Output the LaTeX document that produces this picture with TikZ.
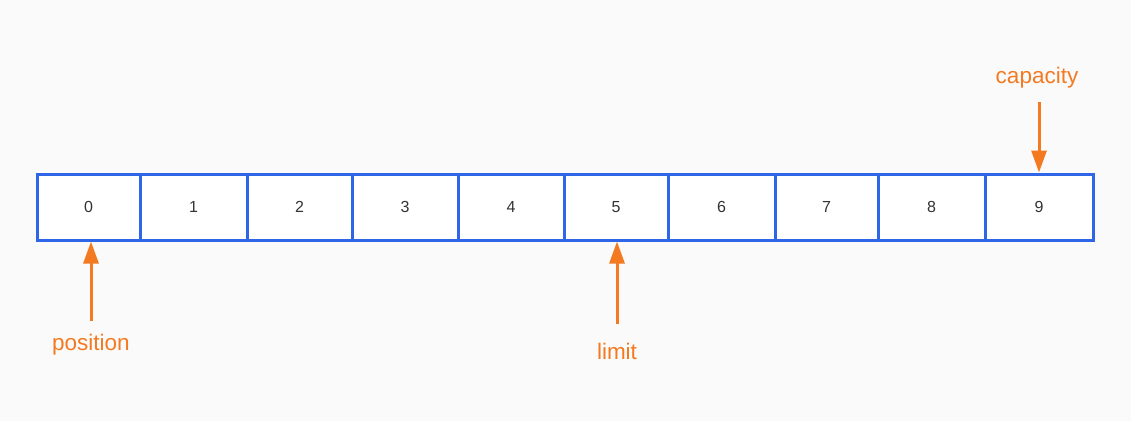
\documentclass[tikz,border=0pt]{standalone}
\usepackage{fontspec}
\setmainfont{Liberation Sans}
\usepackage{tikz}
\usetikzlibrary{arrows.meta}

\definecolor{cellblue}{HTML}{2F66E8}
\definecolor{markorange}{HTML}{F47A22}
\definecolor{paper}{HTML}{FAFAFA}
\definecolor{digit}{HTML}{333333}

\begin{document}
\begin{tikzpicture}[x=1pt,y=-1pt,
		cell/.style={draw=cellblue,line width=3pt,fill=white,minimum height=66pt,inner sep=0pt,font=\fontsize{16}{16}\selectfont,text=digit},
		ptrlabel/.style={text=markorange,font=\fontsize{22.5}{22.5}\selectfont,inner sep=0pt},
		pointer/.style={draw=markorange,line width=3pt,-{Triangle[length=22pt,width=15pt]}}]
			\fill [paper] (0,0) rectangle (1131,421);
			% buffer cells
			\node [cell,minimum width=103pt] (c0) at (88.5,207) {0};
			\node [cell,minimum width=107pt] (c1) at (193.5,207) {1};
			\node [cell,minimum width=105pt] (c2) at (299.5,207) {2};
			\node [cell,minimum width=106pt] (c3) at (405,207) {3};
			\node [cell,minimum width=106pt] (c4) at (511,207) {4};
			\node [cell,minimum width=104pt] (c5) at (616,207) {5};
			\node [cell,minimum width=107pt] (c6) at (721.5,207) {6};
			\node [cell,minimum width=103pt] (c7) at (826.5,207) {7};
			\node [cell,minimum width=107pt] (c8) at (931.5,207) {8};
			\node [cell,minimum width=108pt] (c9) at (1039,207) {9};
			% labels
			\node [ptrlabel] (lpos) at (91,345) {position};
			\node [ptrlabel] (llim) at (617,351) {limit};
			\node [ptrlabel] (lcap) at (1037,78) {capacity};
			\coordinate (tpos) at (91,321);
			\coordinate (tlim) at (617,324);
			\coordinate (tcap) at (1039,102);
			% pointers
			\draw [pointer] (tpos) -- (tpos |- c0.south);
			\draw [pointer] (tlim) -- (tlim |- c5.south);
			\draw [pointer] (tcap) -- (tcap |- c9.north);
\end{tikzpicture}
\end{document}
